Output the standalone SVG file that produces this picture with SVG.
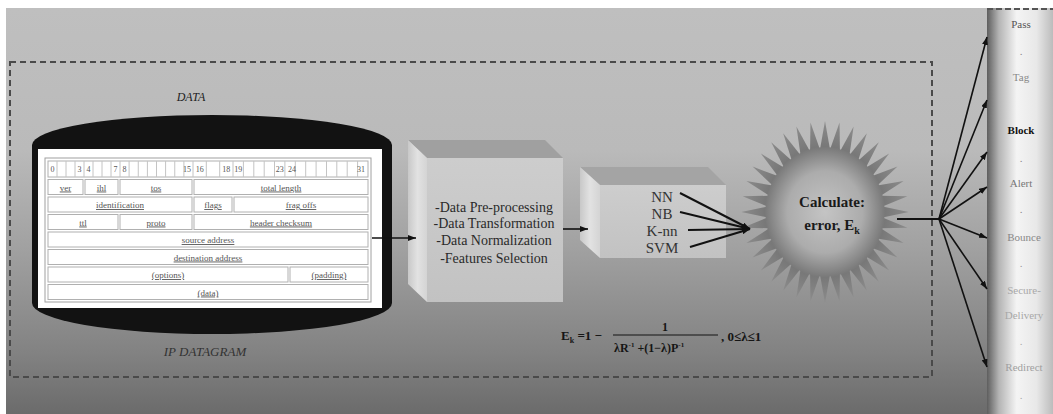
<svg xmlns="http://www.w3.org/2000/svg" xmlns:xlink="http://www.w3.org/1999/xlink" width="1053" height="414" viewBox="0 0 1053 414">
<defs>
<linearGradient id="bg" x1="0" y1="8" x2="0" y2="414" gradientUnits="userSpaceOnUse">
<stop offset="0" stop-color="#bfbfbf"/><stop offset="0.35" stop-color="#bababa"/><stop offset="0.6" stop-color="#a0a0a0"/><stop offset="0.85" stop-color="#828282"/><stop offset="1" stop-color="#6b6b6b"/>
</linearGradient>
<linearGradient id="col" x1="987" y1="0" x2="1053" y2="0" gradientUnits="userSpaceOnUse">
<stop offset="0" stop-color="#5e5e5e"/><stop offset="0.18" stop-color="#b4b4b4"/><stop offset="0.45" stop-color="#f4f4f4"/><stop offset="0.75" stop-color="#e8e8e8"/><stop offset="1" stop-color="#bcbcbc"/>
</linearGradient>
<linearGradient id="front" x1="0" y1="0" x2="0" y2="1">
<stop offset="0" stop-color="#cdcdcd"/><stop offset="1" stop-color="#c2c2c2"/>
</linearGradient>
<linearGradient id="side" x1="0" y1="0" x2="1" y2="0">
<stop offset="0" stop-color="#c8c8c8"/><stop offset="0.5" stop-color="#e2e2e2"/><stop offset="1" stop-color="#d4d4d4"/>
</linearGradient>
<radialGradient id="burst" cx="0" cy="0" r="90" gradientUnits="userSpaceOnUse">
<stop offset="0" stop-color="#c4c4c4"/><stop offset="0.45" stop-color="#acacac"/><stop offset="0.72" stop-color="#787878"/><stop offset="1" stop-color="#8c8c8c"/>
</radialGradient>
<marker id="arr" viewBox="0 0 8 6" refX="8" refY="3" markerWidth="8" markerHeight="6" markerUnits="userSpaceOnUse" orient="auto">
<path d="M0,0 L8,3 L0,6 z" fill="#111"/>
</marker>
<path id="spike" d="M61.8,-5.4 L90,0 L61.8,5.4 Z"/>
<style>
text{font-family:'Liberation Serif','Times New Roman',serif}
.cell{fill:#fff;stroke:#b0b0b0;stroke-width:1}
.tt{font-size:9px;fill:#555;text-anchor:middle}
.tn{font-size:8px;fill:#555;text-anchor:middle}
.u{text-decoration:underline}
.cube{font-size:14px;fill:#2a2a2a;text-anchor:middle}
.cls{font-size:15px;fill:#333;text-anchor:middle}
.act{font-size:11px;text-anchor:middle}
.conn{stroke:#111;stroke-width:1.6;fill:none}
.fml{font-weight:bold;fill:#151515}
.burst{font-weight:bold;font-size:15px;fill:#1a1a1a;text-anchor:middle}
</style>
</defs>

<rect x="0" y="0" width="1053" height="414" fill="#ffffff"/>
<rect x="6" y="8" width="981" height="406" fill="url(#bg)"/>

<g id="boundary">
<rect x="10" y="62" width="922" height="315" fill="none" stroke="#4a4a4a" stroke-width="2" stroke-dasharray="6 4"/>
<text x="191" y="101" font-style="italic" font-size="12" fill="#222" text-anchor="middle">DATA</text>
</g>

<g id="node-ip-datagram">
<path d="M32,145 A180,30 0 0 1 392,145 L392,303 A180,31 0 0 1 32,303 Z" fill="#121212"/>
<rect x="38" y="149" width="344" height="159" fill="#ffffff"/>
<rect x="45" y="158" width="326" height="144" fill="none" stroke="#a0a0a0" stroke-width="1"/>
<rect class="cell" x="48" y="161" width="320" height="16"/>
<path d="M57,161V177M66,161V177M75,161V177M84,161V177M93,161V177M102,161V177M111,161V177M120,161V177M129.1,161V177M138.25,161V177M147.4,161V177M156.5,161V177M165.6,161V177M174.75,161V177M183.9,161V177M193,161V177M206.3,161V177M219.7,161V177M233,161V177M243.4,161V177M253.8,161V177M264.2,161V177M274.5,161V177M284.9,161V177M295.3,161V177M305.7,161V177M316.1,161V177M326.5,161V177M336.8,161V177M347.2,161V177M357.6,161V177" stroke="#c4c4c4" stroke-width="1"/>
<g class="tn">
<text x="52.5" y="172">0</text><text x="79.5" y="172">3</text><text x="88.5" y="172">4</text><text x="115.5" y="172">7</text><text x="124.6" y="172">8</text><text x="187" y="172">15</text><text x="199.7" y="172">16</text><text x="226.3" y="172">18</text><text x="238.2" y="172">19</text><text x="279.7" y="172">23</text><text x="292" y="172">24</text><text x="361" y="172">31</text>
</g>
<rect class="cell" x="48" y="179.5" width="35" height="15"/>
<rect class="cell" x="85" y="179.5" width="33" height="15"/>
<rect class="cell" x="120" y="179.5" width="72" height="15"/>
<rect class="cell" x="194" y="179.5" width="174" height="15"/>
<rect class="cell" x="48" y="197" width="144" height="15"/>
<rect class="cell" x="194" y="197" width="38" height="15"/>
<rect class="cell" x="234" y="197" width="134" height="15"/>
<rect class="cell" x="48" y="214.5" width="70" height="15"/>
<rect class="cell" x="120" y="214.5" width="72" height="15"/>
<rect class="cell" x="194" y="214.5" width="174" height="15"/>
<rect class="cell" x="48" y="232" width="320" height="15"/>
<rect class="cell" x="48" y="249.5" width="320" height="15"/>
<rect class="cell" x="48" y="267" width="240" height="15"/>
<rect class="cell" x="290" y="267" width="78" height="15"/>
<rect class="cell" x="48" y="284.5" width="320" height="15"/>
<g class="tt u">
<text x="65.5" y="190.5">ver</text><text x="101.5" y="190.5">ihl</text><text x="156" y="190.5">tos</text><text x="281" y="190.5">total length</text>
<text x="120" y="208">identification</text><text x="213" y="208">flags</text><text x="301" y="208">frag offs</text>
<text x="83" y="225.5">ttl</text><text x="156" y="225.5">proto</text><text x="281" y="225.5">header checksum</text>
<text x="208" y="243">source address</text>
<text x="208" y="260.5">destination address</text>
<text x="168" y="278">(options)</text><text x="329" y="278">(padding)</text>
<text x="208" y="295.5">(data)</text>
</g>
<text x="205" y="356" font-style="italic" font-size="13" fill="#333" text-anchor="middle">IP DATAGRAM</text>
</g>

<g id="node-preprocessing">
<polygon points="408,140 545,140 563,158 427,158" fill="#a0a0a0"/>
<polygon points="408,140 427,158 427,302 408,284" fill="url(#side)"/>
<rect x="427" y="158" width="136" height="144" fill="url(#front)"/>
<text class="cube" x="494" y="212">-Data Pre-processing</text>
<text class="cube" x="494" y="228">-Data Transformation</text>
<text class="cube" x="494" y="245">-Data Normalization</text>
<text class="cube" x="494" y="263">-Features Selection</text>
</g>

<g id="node-classifiers">
<polygon points="580,167 708,167 726,185 600,185" fill="#a4a4a4"/>
<polygon points="580,167 600,185 600,258 580,240" fill="url(#side)"/>
<rect x="600" y="185" width="126" height="73" fill="url(#front)"/>
<text class="cls" x="662" y="202">NN</text>
<text class="cls" x="662" y="219">NB</text>
<text class="cls" x="662" y="236">K-nn</text>
<text class="cls" x="662" y="253">SVM</text>
</g>

<g id="node-calculate">
<g transform="translate(825,212) scale(0.93,1.01)" fill="url(#burst)">
<circle cx="0" cy="0" r="64"/>
<use xlink:href="#spike" transform="rotate(0)"/><use xlink:href="#spike" transform="rotate(10)"/><use xlink:href="#spike" transform="rotate(20)"/><use xlink:href="#spike" transform="rotate(30)"/><use xlink:href="#spike" transform="rotate(40)"/><use xlink:href="#spike" transform="rotate(50)"/><use xlink:href="#spike" transform="rotate(60)"/><use xlink:href="#spike" transform="rotate(70)"/><use xlink:href="#spike" transform="rotate(80)"/><use xlink:href="#spike" transform="rotate(90)"/><use xlink:href="#spike" transform="rotate(100)"/><use xlink:href="#spike" transform="rotate(110)"/><use xlink:href="#spike" transform="rotate(120)"/><use xlink:href="#spike" transform="rotate(130)"/><use xlink:href="#spike" transform="rotate(140)"/><use xlink:href="#spike" transform="rotate(150)"/><use xlink:href="#spike" transform="rotate(160)"/><use xlink:href="#spike" transform="rotate(170)"/><use xlink:href="#spike" transform="rotate(180)"/><use xlink:href="#spike" transform="rotate(190)"/><use xlink:href="#spike" transform="rotate(200)"/><use xlink:href="#spike" transform="rotate(210)"/><use xlink:href="#spike" transform="rotate(220)"/><use xlink:href="#spike" transform="rotate(230)"/><use xlink:href="#spike" transform="rotate(240)"/><use xlink:href="#spike" transform="rotate(250)"/><use xlink:href="#spike" transform="rotate(260)"/><use xlink:href="#spike" transform="rotate(270)"/><use xlink:href="#spike" transform="rotate(280)"/><use xlink:href="#spike" transform="rotate(290)"/><use xlink:href="#spike" transform="rotate(300)"/><use xlink:href="#spike" transform="rotate(310)"/><use xlink:href="#spike" transform="rotate(320)"/><use xlink:href="#spike" transform="rotate(330)"/><use xlink:href="#spike" transform="rotate(340)"/><use xlink:href="#spike" transform="rotate(350)"/>
</g>
<text class="burst" x="832" y="207">Calculate:</text>
<text class="burst" x="832" y="230">error, E<tspan font-size="10" dy="4">k</tspan></text>
</g>

<g id="node-formula" class="fml">
<text x="561" y="340" font-size="13">E<tspan font-size="8" dy="3">k</tspan><tspan dy="-3"> =1 −</tspan></text>
<text x="665" y="331" font-size="12" text-anchor="middle">1</text>
<line x1="613" y1="335" x2="718" y2="335" stroke="#151515" stroke-width="1.2"/>
<text x="614" y="352" font-size="12">λR<tspan font-size="7" dy="-5">-1</tspan><tspan dy="5"> +(1−λ)P</tspan><tspan font-size="7" dy="-5">-1</tspan></text>
<text x="721" y="341" font-size="13">, 0≤λ≤1</text>
</g>

<g id="node-actions">
<rect x="987" y="8" width="66" height="406" fill="url(#col)"/>
<line x1="987" y1="9" x2="1053" y2="9" stroke="#555" stroke-width="2" stroke-dasharray="6 3"/>
<text class="act" x="1021" y="28" fill="#555">Pass</text>
<text class="act" x="1021" y="55" fill="#888">.</text>
<text class="act" x="1021" y="81" fill="#888">Tag</text>
<text class="act" x="1021" y="134" fill="#111" font-weight="bold">Block</text>
<text class="act" x="1021" y="162" fill="#888">.</text>
<text class="act" x="1021" y="187" fill="#777">Alert</text>
<text class="act" x="1021" y="213" fill="#888">.</text>
<text class="act" x="1024" y="241" fill="#888">Bounce</text>
<text class="act" x="1021" y="267" fill="#999">.</text>
<text class="act" x="1024" y="294" fill="#a8a8a8">Secure-</text>
<text class="act" x="1024" y="319" fill="#a8a8a8">Delivery</text>
<text class="act" x="1021" y="345" fill="#aaa">.</text>
<text class="act" x="1024" y="371" fill="#a0a0a0">Redirect</text>
<text class="act" x="1021" y="399" fill="#aaa">.</text>
</g>

<g id="connectors" class="conn">
<line x1="372" y1="238" x2="416" y2="238" marker-end="url(#arr)"/>
<line x1="563" y1="229" x2="588" y2="229" marker-end="url(#arr)"/>
<line x1="680" y1="193" x2="750" y2="229" stroke-width="2" marker-end="url(#arr)"/>
<line x1="680" y1="212" x2="750" y2="229" stroke-width="2" marker-end="url(#arr)"/>
<line x1="688" y1="230" x2="750" y2="229" stroke-width="2" marker-end="url(#arr)"/>
<line x1="690" y1="247" x2="750" y2="229" stroke-width="2" marker-end="url(#arr)"/>
<line x1="897" y1="219" x2="939" y2="219" stroke-width="2"/>
<line x1="939" y1="219" x2="987" y2="37" marker-end="url(#arr)"/>
<line x1="939" y1="219" x2="987" y2="100" marker-end="url(#arr)"/>
<line x1="939" y1="219" x2="987" y2="152" marker-end="url(#arr)"/>
<line x1="939" y1="219" x2="987" y2="187" marker-end="url(#arr)"/>
<line x1="939" y1="219" x2="987" y2="238" marker-end="url(#arr)"/>
<line x1="939" y1="219" x2="987" y2="289" marker-end="url(#arr)"/>
<line x1="939" y1="219" x2="987" y2="367" marker-end="url(#arr)"/>
</g>
</svg>
